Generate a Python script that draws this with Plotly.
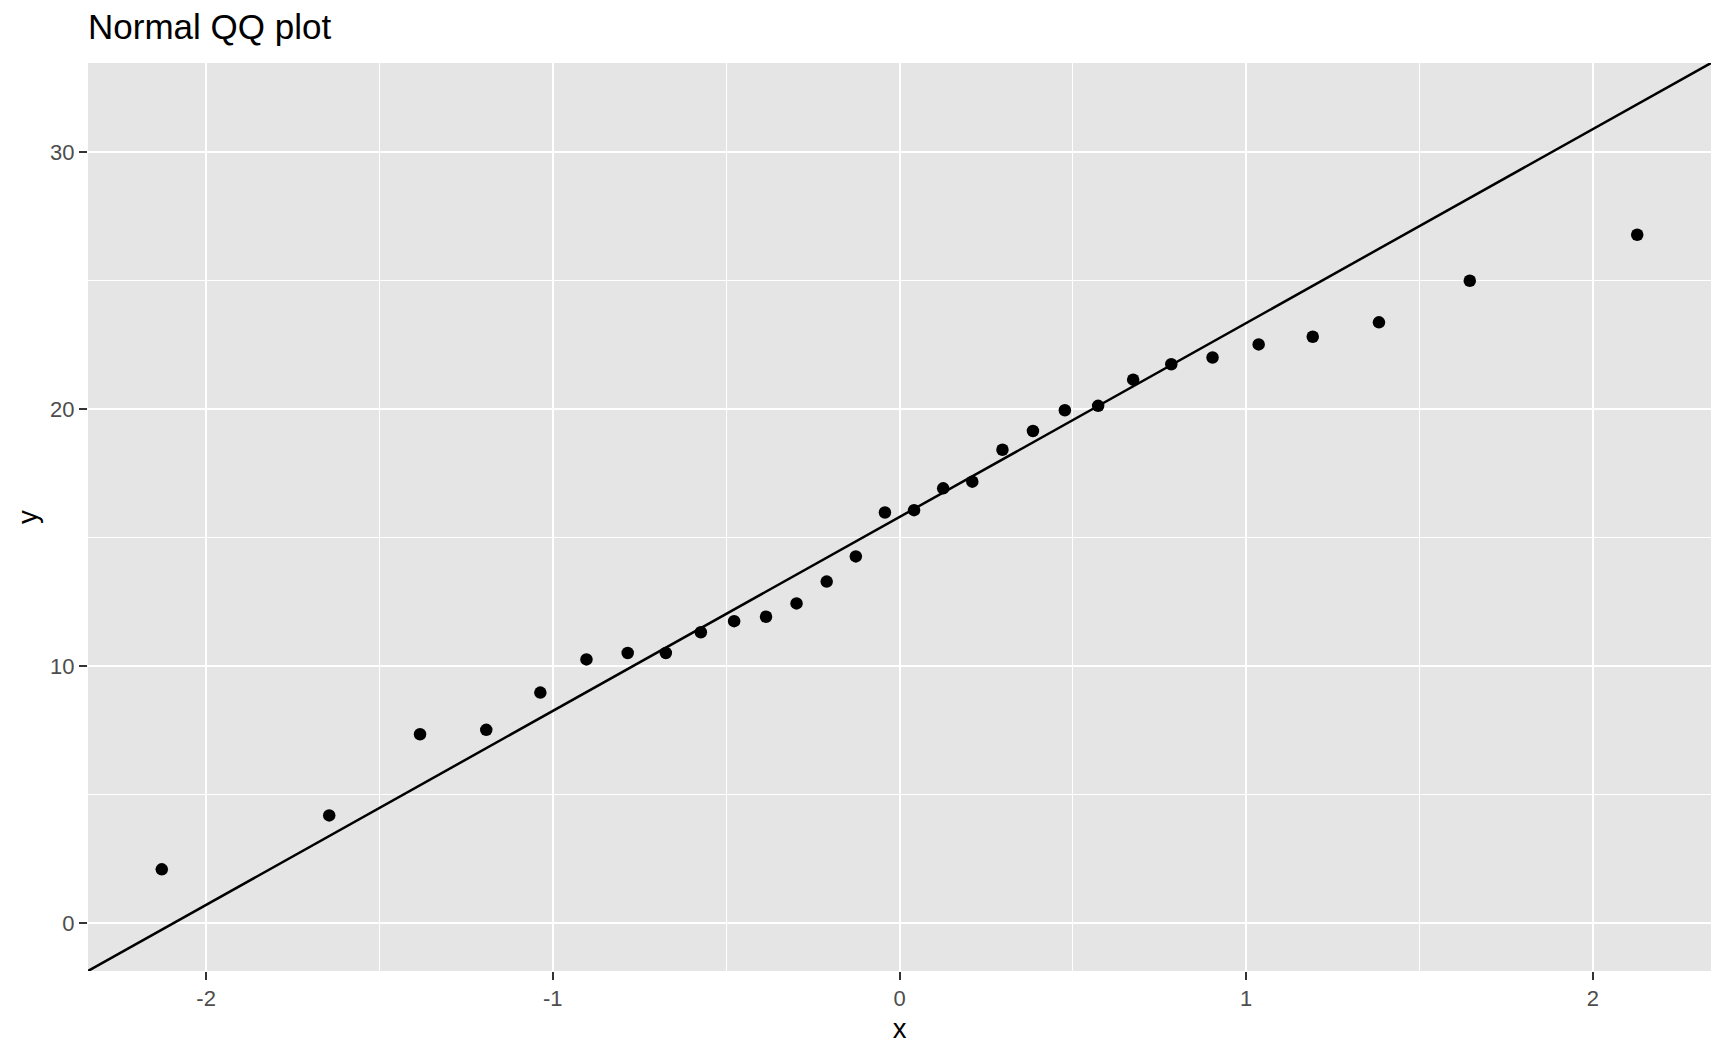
import numpy as np
import plotly.graph_objects as go

# Theoretical normal quantiles (x) and sorted sample values (y)
theoretical = [-2.128, -1.645, -1.383, -1.192, -1.036, -0.903, -0.784, -0.674, -0.573, -0.477,
               -0.385, -0.297, -0.210, -0.126, -0.042, 0.042, 0.126, 0.210, 0.297, 0.385,
               0.477, 0.573, 0.674, 0.784, 0.903, 1.036, 1.192, 1.383, 1.645, 2.128]
sample = [2.09, 4.19, 7.35, 7.52, 8.97, 10.26, 10.51, 10.51, 11.32, 11.75,
          11.92, 12.44, 13.29, 14.27, 15.98, 16.07, 16.92, 17.18, 18.42, 19.15,
          19.96, 20.13, 21.15, 21.75, 22.01, 22.52, 22.82, 23.38, 25.00, 26.79]

x_ticks = [-2, -1, 0, 1, 2]
x_tick_labels = ["-2", "-1", "0", "1", "2"]
y_ticks = [0, 10, 20, 30]
y_tick_labels = ["0", "10", "20", "30"]
x_minor = [-1.5, -0.5, 0.5, 1.5]
y_minor = [5, 15, 25]

xs = np.array(theoretical)
ys = np.array(sample)

# QQ line through the quartiles (as stat_qq_line)
q1, q3 = np.quantile(ys, [0.25, 0.75])
z1, z3 = -0.6744898, 0.6744898
slope = (q3 - q1) / (z3 - z1)
intercept = q1 - slope * z1

span = xs.max() - xs.min()
xr = [xs.min() - 0.05 * span, xs.max() + 0.05 * span]
line_y_ends = [intercept + slope * xs.min(), intercept + slope * xs.max()]
yspan = line_y_ends[1] - line_y_ends[0]
yr = [line_y_ends[0] - 0.05 * yspan, line_y_ends[1] + 0.05 * yspan]
line_x = xr
line_y = [intercept + slope * v for v in xr]

fig = go.Figure()
fig.add_trace(go.Scatter(x=xs, y=ys, mode="markers",
                         marker=dict(color="black", size=12.5, line=dict(width=0)),
                         showlegend=False, hoverinfo="x+y"))
fig.add_trace(go.Scatter(x=line_x, y=line_y, mode="lines",
                         line=dict(color="black", width=2.5),
                         showlegend=False, hoverinfo="skip"))

font_family = "Liberation Sans, Arial, Helvetica, sans-serif"

W, H = 1720, 1048
fig.update_layout(
    width=W, height=H,
    paper_bgcolor="white",
    plot_bgcolor="#E5E5E5",
    margin=dict(l=80, r=17, t=55, b=85),
    font=dict(family=font_family, color="black"),
    title=dict(text="Normal QQ plot", x=0, xref="paper", xanchor="left",
               y=1 - 19 / H, yref="container", yanchor="middle",
               font=dict(size=35, color="black", family=font_family)),
    xaxis=dict(range=xr, tickvals=x_ticks, ticktext=x_tick_labels,
               showgrid=True, gridcolor="white", gridwidth=2.2,
               zeroline=False, showline=False,
               ticks="outside", ticklen=8, tickwidth=2.4, tickcolor="#333333",
               tickfont=dict(size=22, color="#4D4D4D"),
               minor=dict(tickmode="array", tickvals=x_minor, showgrid=True,
                          gridcolor="white", gridwidth=1.1, ticks=""),
               title=dict(text="x", font=dict(size=27.5, color="black"), standoff=8)),
    yaxis=dict(range=yr, tickvals=y_ticks, ticktext=y_tick_labels,
               showgrid=True, gridcolor="white", gridwidth=2.2,
               zeroline=False, showline=False,
               ticks="outside", ticklen=8, tickwidth=2.4, tickcolor="#333333",
               tickfont=dict(size=22, color="#4D4D4D"),
               minor=dict(tickmode="array", tickvals=y_minor, showgrid=True,
                          gridcolor="white", gridwidth=1.1, ticks=""),
               title=dict(text="y", font=dict(size=27.5, color="black"), standoff=4)),
)

fig.write_html("out.html")
